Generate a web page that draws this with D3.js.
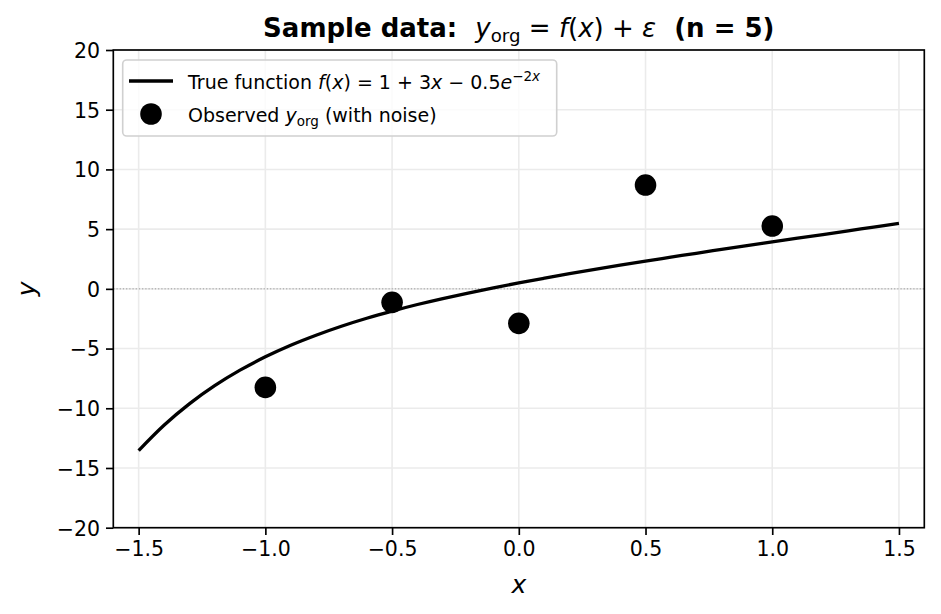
<!DOCTYPE html>
<html>
<head>
<meta charset="utf-8">
<script src="https://cdn.jsdelivr.net/npm/d3@7"></script>
<style>
  body { margin: 0; background: #fff; }
  text { font-family: "DejaVu Sans", sans-serif; fill: #000; }
</style>
</head>
<body>
<div id="chart"></div>
<script>
// values
var curveX = [-1.5, -1.4, -1.3, -1.2, -1.1, -1.0, -0.9, -0.8, -0.7, -0.6, -0.5,
  -0.4, -0.3, -0.2, -0.1, 0.0, 0.1, 0.2, 0.3, 0.4, 0.5, 0.6, 0.7, 0.8, 0.9,
  1.0, 1.1, 1.2, 1.3, 1.4, 1.5];
var curveY = [-13.54, -11.42, -9.63, -8.11, -6.81, -5.69, -4.72, -3.88, -3.13,
  -2.46, -1.86, -1.31, -0.81, -0.35, 0.09, 0.5, 0.89, 1.27, 1.63, 1.98, 2.32,
  2.65, 2.98, 3.30, 3.62, 3.93, 4.24, 4.55, 4.86, 5.17, 5.48];
var obsX = [-1.0, -0.5, 0.0, 0.5, 1.0];
var obsY = [-8.25, -1.13, -2.89, 8.69, 5.26];
var xTicks = [-1.5, -1.0, -0.5, 0.0, 0.5, 1.0, 1.5];
var yTicks = [-20, -15, -10, -5, 0, 5, 10, 15, 20];

var chart_width = 941;
var chart_height = 614;
var plot_left = 113.3, plot_right = 924.3, plot_top = 50, plot_bottom = 527.7;

var svg = d3.select("#chart")
  .append("svg")
  .attr("width", chart_width)
  .attr("height", chart_height);

var x_scale = d3.scaleLinear().domain([-1.6, 1.6]).range([plot_left, plot_right]);
var y_scale = d3.scaleLinear().domain([-20, 20]).range([plot_bottom, plot_top]);

// grid
svg.append("g")
  .selectAll("line")
  .data(xTicks)
  .enter()
  .append("line")
  .attr("x1", d => x_scale(d))
  .attr("x2", d => x_scale(d))
  .attr("y1", plot_top)
  .attr("y2", plot_bottom)
  .attr("stroke", "#ebebeb")
  .attr("stroke-width", 1.6);
svg.append("g")
  .selectAll("line")
  .data(yTicks)
  .enter()
  .append("line")
  .attr("x1", plot_left)
  .attr("x2", plot_right)
  .attr("y1", d => y_scale(d))
  .attr("y2", d => y_scale(d))
  .attr("stroke", "#ebebeb")
  .attr("stroke-width", 1.6);

// zero line
svg.append("line")
  .attr("x1", plot_left)
  .attr("x2", plot_right)
  .attr("y1", y_scale(0))
  .attr("y2", y_scale(0))
  .attr("stroke", "#999")
  .attr("stroke-width", 1)
  .attr("stroke-dasharray", "1.2,2");

// true function
var line = d3.line()
  .x(d => x_scale(d[0]))
  .y(d => y_scale(d[1]))
  .curve(d3.curveCatmullRom);
svg.append("path")
  .datum(curveX.map((d, i) => [d, curveY[i]]))
  .attr("d", line)
  .attr("fill", "none")
  .attr("stroke", "#000")
  .attr("stroke-width", 3.3);

// observed points
svg.append("g")
  .selectAll("circle")
  .data(obsX.map((d, i) => [d, obsY[i]]))
  .enter()
  .append("circle")
  .attr("cx", d => x_scale(d[0]))
  .attr("cy", d => y_scale(d[1]))
  .attr("r", 10.8)
  .attr("fill", "#000");

// axes
var x_axis = d3.axisBottom(x_scale)
  .tickValues(xTicks)
  .tickFormat(d => d3.format(".1f")(d).replace("-", "\u2212"))
  .tickSizeInner(7.3)
  .tickSizeOuter(0)
  .tickPadding(6);
var gx = svg.append("g")
  .attr("transform", "translate(0," + plot_bottom + ")")
  .call(x_axis);

var y_axis = d3.axisLeft(y_scale)
  .tickValues(yTicks)
  .tickFormat(d => String(d).replace("-", "\u2212"))
  .tickSizeInner(7.3)
  .tickSizeOuter(0)
  .tickPadding(6);
var gy = svg.append("g")
  .attr("transform", "translate(" + plot_left + ",0)")
  .call(y_axis);

[gx, gy].forEach(function(g) {
  g.select(".domain").remove();
  g.selectAll(".tick line").attr("stroke", "#000").attr("stroke-width", 1.67);
  g.selectAll(".tick text")
    .attr("font-size", "20.5px")
    .style("font-family", "DejaVu Sans");
});
gy.selectAll(".tick text").attr("dy", "0.36em");

// frame
svg.append("rect")
  .attr("x", plot_left)
  .attr("y", plot_top)
  .attr("width", plot_right - plot_left)
  .attr("height", plot_bottom - plot_top)
  .attr("fill", "none")
  .attr("stroke", "#000")
  .attr("stroke-width", 1.67);

// axis labels
svg.append("text")
  .attr("x", (plot_left + plot_right) / 2)
  .attr("y", 593)
  .attr("text-anchor", "middle")
  .attr("font-size", "25px")
  .attr("font-style", "italic")
  .text("x");
svg.append("text")
  .attr("transform", "translate(35," + ((plot_top + plot_bottom) / 2) + ") rotate(-90)")
  .attr("text-anchor", "middle")
  .attr("font-size", "25px")
  .attr("font-style", "italic")
  .text("y");

// title
var title = svg.append("text")
  .attr("x", (plot_left + plot_right) / 2)
  .attr("y", 37)
  .attr("text-anchor", "middle")
  .attr("font-size", "26px");
title.append("tspan").attr("font-weight", "bold").text("Sample data:\u00a0\u00a0");
title.append("tspan").attr("font-style", "italic").text("y");
title.append("tspan").attr("font-size", "18.2px").attr("dy", 5).text("org");
title.append("tspan").attr("dy", -5).text("\u00a0=\u00a0");
title.append("tspan").attr("font-style", "italic").text("f");
title.append("tspan").text("(");
title.append("tspan").attr("font-style", "italic").text("x");
title.append("tspan").text(")\u00a0+\u00a0");
title.append("tspan").attr("font-style", "italic").text("\u03b5");
title.append("tspan").attr("font-weight", "bold").text("\u00a0\u00a0(n = 5)");

// legend
var legend = svg.append("g");
legend.append("rect")
  .attr("x", 122.7)
  .attr("y", 60)
  .attr("width", 434)
  .attr("height", 76)
  .attr("rx", 4)
  .attr("fill", "#fff")
  .attr("fill-opacity", 0.8)
  .attr("stroke", "#d0d0d0")
  .attr("stroke-width", 1.6);
legend.append("line")
  .attr("x1", 129)
  .attr("x2", 173)
  .attr("y1", 81)
  .attr("y2", 81)
  .attr("stroke", "#000")
  .attr("stroke-width", 3.3);
legend.append("circle")
  .attr("cx", 151)
  .attr("cy", 114)
  .attr("r", 10.8)
  .attr("fill", "#000");

var t1 = legend.append("text")
  .attr("x", 188)
  .attr("y", 89)
  .attr("font-size", "19px");
t1.append("tspan").text("True function ");
t1.append("tspan").attr("font-style", "italic").text("f");
t1.append("tspan").text("(");
t1.append("tspan").attr("font-style", "italic").text("x");
t1.append("tspan").text(")\u00a0=\u00a01\u00a0+\u00a03");
t1.append("tspan").attr("font-style", "italic").text("x");
t1.append("tspan").text("\u00a0\u2212\u00a00.5");
t1.append("tspan").attr("font-style", "italic").text("e");
t1.append("tspan").attr("font-size", "13.5px").attr("dy", -8).text("\u22122");
t1.append("tspan").attr("font-size", "13.5px").attr("font-style", "italic").text("x");

var t2 = legend.append("text")
  .attr("x", 188)
  .attr("y", 122)
  .attr("font-size", "19px");
t2.append("tspan").text("Observed ");
t2.append("tspan").attr("font-style", "italic").text("y");
t2.append("tspan").attr("font-size", "13.5px").attr("dy", 4).text("org");
t2.append("tspan").attr("dy", -4).text(" (with noise)");
</script>
</body>
</html>
